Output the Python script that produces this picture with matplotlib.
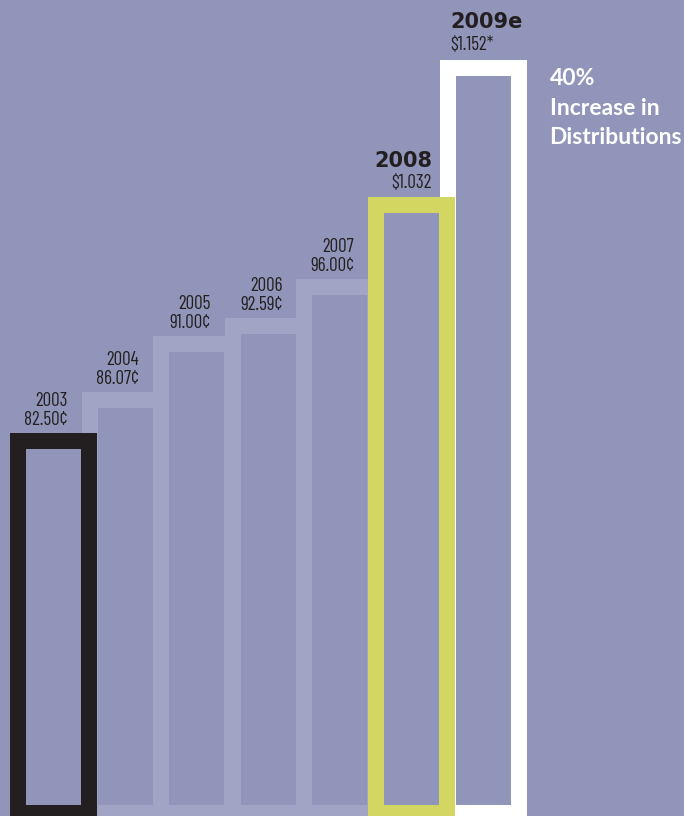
import matplotlib
matplotlib.use("Agg")
import matplotlib.pyplot as plt
from matplotlib import font_manager as fm

# ---- data ----
years = ['2003', '2004', '2005', '2006', '2007', '2008', '2009e']
values = [82.50, 86.07, 91.00, 92.59, 96.00, 103.2, 115.2]
value_labels = ['82.50¢', '86.07¢', '91.00¢', '92.59¢', '96.00¢', '$1.032', '$1.152*']
headline = ['40%', 'Increase in', 'Distributions']

# ---- style ----
BG = '#9195b9'
LIGHT = '#a1a4c4'
frame_colors = ['#231f20', LIGHT, LIGHT, LIGHT, LIGHT, '#d3d660', '#ffffff']
frame_z = [3, 1, 1, 1, 1, 5, 4]
TXT = '#231f20'

W = 1.215          # outer width (bar pitch = 1)
TX = 0.2235        # wall thickness, x units
TY = 1.40          # wall thickness, y units
YMIN, YMAX = 48.9, 120.5
BOTTOM = 48.46


def _w(v):
    if isinstance(v, str):
        return fm.weight_dict.get(v, 400)
    return int(v)


def pick_font(candidates, weight, size):
    for name in candidates:
        entries = [f for f in fm.fontManager.ttflist
                   if f.name == name and f.style == 'normal']
        exact = [f for f in entries if abs(_w(f.weight) - weight) <= 50]
        if exact:
            return fm.FontProperties(fname=exact[0].fname, size=size)
    return fm.FontProperties(family='DejaVu Sans', weight=weight, size=size)


small_fp = pick_font(['Barlow Condensed', 'PT Sans Narrow', 'Archivo Narrow',
                      'Roboto Condensed', 'Sofia Sans Condensed'], 400, 13.7)
bold_fp = pick_font(['Montserrat', 'Nunito Sans', 'Work Sans', 'DejaVu Sans'], 700, 15)
head_fp = pick_font(['Lato', 'Open Sans', 'DejaVu Sans'], 700, 16.5)

fig = plt.figure(figsize=(6.84, 8.16), dpi=100, facecolor=BG)
ax = fig.add_axes([0, 0, 1, 1])
ax.set_facecolor(BG)
ax.set_xlim(-0.747, 8.806)
ax.set_ylim(YMIN, YMAX)
ax.axis('off')

xs = list(range(len(values)))
for i, (x, v) in enumerate(zip(xs, values)):
    ax.bar(x, v - BOTTOM, bottom=BOTTOM, width=W, color=frame_colors[i],
           zorder=frame_z[i], linewidth=0)
    ax.bar(x, (v - TY) - (BOTTOM + TY), bottom=BOTTOM + TY, width=W - 2 * TX,
           color=BG, zorder=frame_z[i] + 0.5, linewidth=0)

# small labels 2003-2007
for i in range(5):
    ax.annotate(f'{years[i]}\n{value_labels[i]}',
                xy=(xs[i] + W / 2 - TX, values[i]), xytext=(-13.5, 8),
                textcoords='offset pixels', ha='right', va='baseline',
                linespacing=1.1, zorder=10, color=TXT, fontproperties=small_fp)

# 2008
ax.annotate(value_labels[5], xy=(xs[5] + W / 2 - TX, values[5]), xytext=(-7, 9),
            textcoords='offset pixels', ha='right', va='baseline', zorder=10,
            color=TXT, fontproperties=small_fp)
ax.annotate(years[5], xy=(xs[5] + W / 2 - TX, values[5]), xytext=(-7, 30),
            textcoords='offset pixels', ha='right', va='baseline', zorder=10,
            color=TXT, fontproperties=bold_fp)

# 2009e
ax.annotate(value_labels[6], xy=(xs[6] - W / 2, values[6]), xytext=(11, 10),
            textcoords='offset pixels', ha='left', va='baseline', zorder=10,
            color=TXT, fontproperties=small_fp)
ax.annotate(years[6], xy=(xs[6] - W / 2, values[6]), xytext=(11, 32),
            textcoords='offset pixels', ha='left', va='baseline', zorder=10,
            color=TXT, fontproperties=bold_fp)

# headline
for k, line in enumerate(headline):
    ax.annotate(line, xy=(xs[6] + W / 2, values[6]), xytext=(23, -25 - 29.5 * k),
                textcoords='offset pixels', ha='left', va='baseline', zorder=10,
                color='white', fontproperties=head_fp)

fig.savefig('out.png', dpi=100, facecolor=BG)
